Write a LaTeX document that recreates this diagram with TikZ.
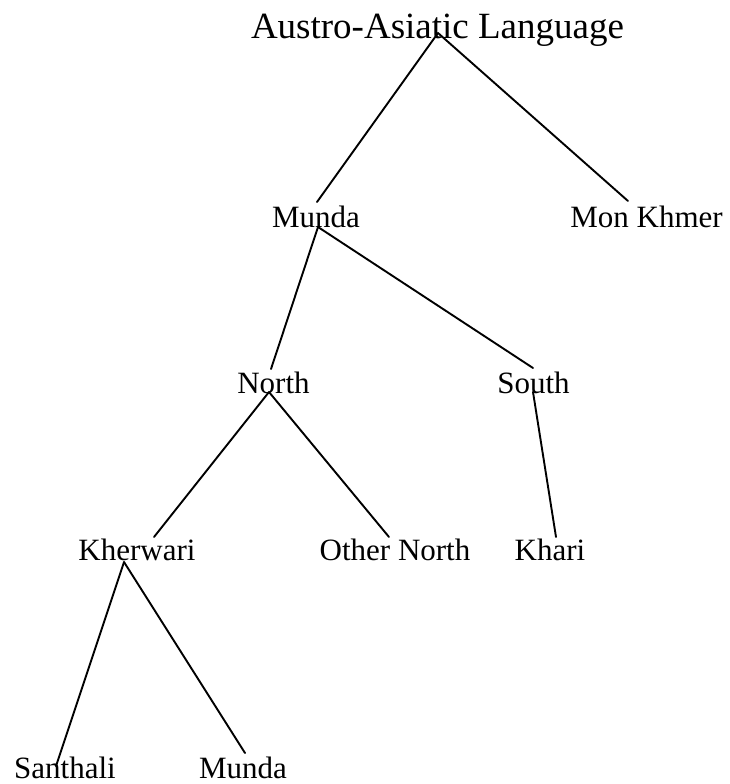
\documentclass[tikz,border=0pt]{standalone}
\usepackage{fontspec}
\setmainfont{Liberation Serif}
\begin{document}
\begin{tikzpicture}[x=1pt,y=-1pt,
  label/.style={anchor=base,inner sep=0pt,font=\fontsize{31}{31}\selectfont},
  toplabel/.style={anchor=base,inner sep=0pt,font=\fontsize{37}{37}\selectfont},
  branch/.style={line width=1.9pt,line cap=round}]
\useasboundingbox (0,0) rectangle (730,784);

% labels, placed by centre of text and baseline
\node[toplabel] (root)       at (437.5,38) {Austro-Asiatic Language};
\node[label]    (munda)      at (316,227)  {Munda};
\node[label]    (monkhmer)   at (646.5,227){Mon Khmer};
\node[label]    (north)      at (273.5,393){North};
\node[label]    (south)      at (533.5,393){South};
\node[label]    (kherwari)   at (137,560)  {Kherwari};
\node[label]    (othernorth) at (395,560)  {Other North};
\node[label]    (khari)      at (550,560)  {Khari};
\node[label]    (santhali)   at (65,778)   {Santhali};
\node[label]    (mundab)     at (243,778)  {Munda};

% branching points under each parent
\coordinate (root-j)     at (438,33);
\coordinate (munda-j)    at (318,227);
\coordinate (north-j)    at (269,392);
\coordinate (south-j)    at (533,392);
\coordinate (kherwari-j) at (124,562);

% end points above each child
\coordinate (munda-t)      at (317,202);
\coordinate (monkhmer-t)   at (628,201);
\coordinate (north-t)      at (271,369);
\coordinate (south-t)      at (533,368);
\coordinate (kherwari-t)   at (154,537);
\coordinate (othernorth-t) at (389,537);
\coordinate (khari-t)      at (556,537);
\coordinate (santhali-t)   at (56,766);
\coordinate (mundab-t)     at (245,753);

% tree branches
\draw[branch] (root-j) -- (munda-t);
\draw[branch] (root-j) -- (monkhmer-t);
\draw[branch] (munda-j) -- (north-t);
\draw[branch] (munda-j) -- (south-t);
\draw[branch] (north-j) -- (kherwari-t);
\draw[branch] (north-j) -- (othernorth-t);
\draw[branch] (south-j) -- (khari-t);
\draw[branch] (kherwari-j) -- (santhali-t);
\draw[branch] (kherwari-j) -- (mundab-t);
\end{tikzpicture}
\end{document}
